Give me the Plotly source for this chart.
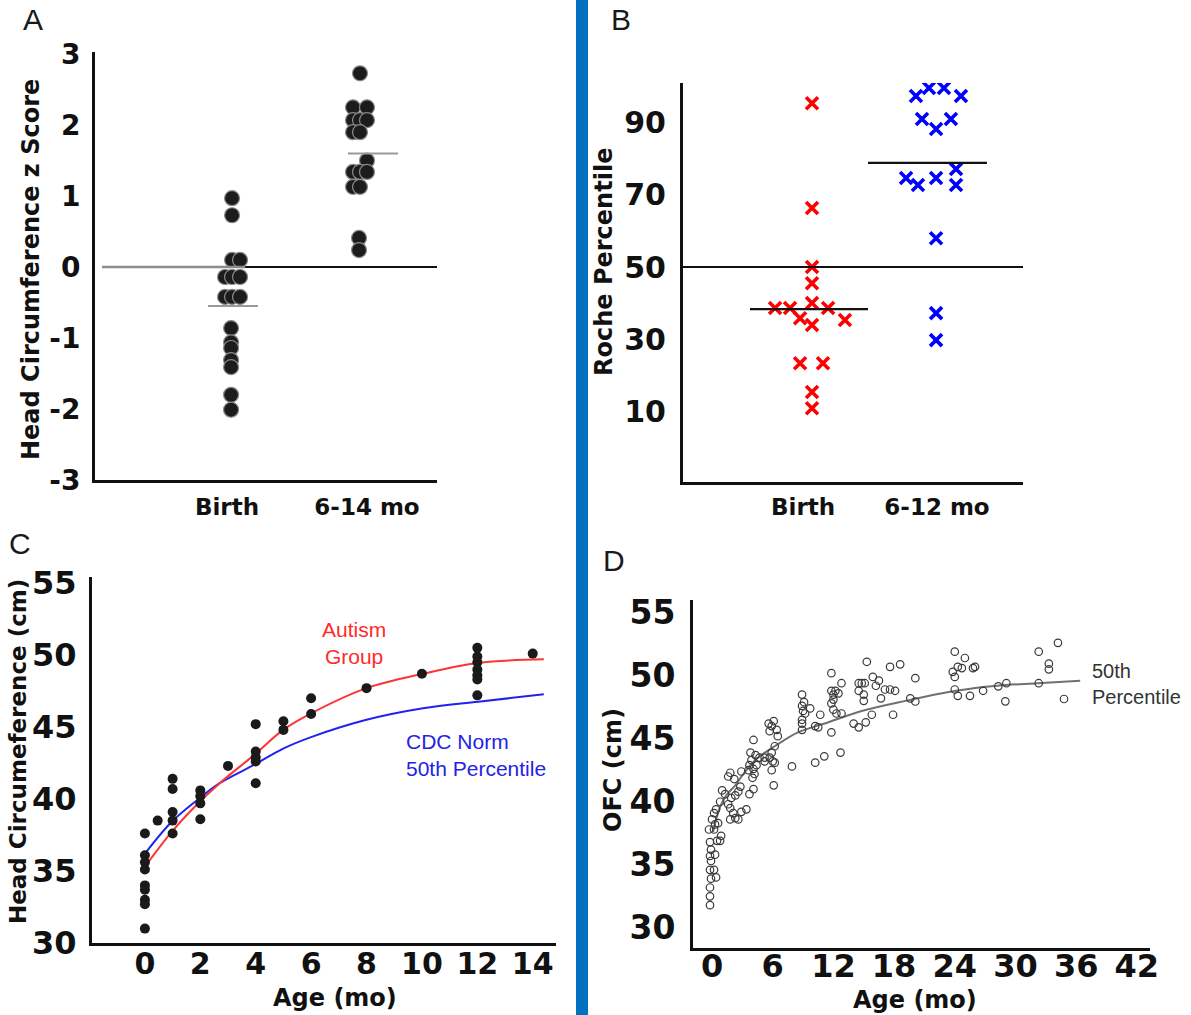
import plotly.graph_objects as go

W, H = 1191, 1015
def px(x): return x / W
def py(y): return 1 - y / H

# ---------------- Panel A data ----------------
a_groups = ["Birth", "6-14 mo"]
a_birth_z = [0.97, 0.73, 0.10, 0.10, -0.14, -0.14, -0.14, -0.42, -0.42, -0.42,
             -0.86, -1.06, -1.14, -1.31, -1.41, -1.80, -2.01]
a_birth_jit = [0.036, 0.036, 0.036, 0.093, -0.014, 0.036, 0.093, -0.014, 0.036, 0.093,
               0.029, 0.029, 0.029, 0.029, 0.029, 0.029, 0.029]
a_later_z = [2.73, 2.25, 2.25, 2.07, 2.07, 2.07, 1.90, 1.90, 1.50, 1.34, 1.34, 1.34,
             1.13, 1.13, 0.41, 0.24]
a_later_jit = [-0.05, -0.10, 0.0, -0.10, -0.05, 0.0, -0.10, -0.05, 0.0, -0.10, -0.05, 0.0,
               -0.10, -0.05, -0.057, -0.057]
a_means = [-0.55, 1.60]
a_yticks = [-3, -2, -1, 0, 1, 2, 3]
a_yticktext = ["-3", "-2", "-1", "0", "1", "2", "3"]

# ---------------- Panel B data ----------------
b_groups = ["Birth", "6-12 mo"]
b_birth_pct = [95.5, 66.4, 50.0, 45.5, 38.6, 38.6, 40.0, 38.6, 35.8, 33.9, 35.3, 23.3, 23.3, 15.3, 10.8]
b_birth_jit = [0.067, 0.067, 0.067, 0.067, -0.209, -0.097, 0.067, 0.187, -0.022, 0.067, 0.313,
               -0.022, 0.149, 0.067, 0.067]
b_later_pct = [97.5, 99.7, 99.7, 97.5, 91.1, 88.3, 91.1, 74.7, 72.8, 74.7, 77.2, 72.8, 58.0, 37.2, 29.7]
b_later_jit = [-0.157, -0.060, 0.052, 0.179, -0.112, -0.007, 0.104, -0.231, -0.142, -0.007,
               0.142, 0.142, -0.007, -0.007, -0.007]
b_means = [38.3, 78.9]
b_ref = 50
b_yticks = [10, 30, 50, 70, 90]

# ---------------- Panel C data ----------------
c_age = [0, 0, 0, 0, 0, 0, 0, 0, 0, 0.46,
         1, 1, 1, 1, 1, 2, 2, 2, 2, 3,
         4, 4, 4, 4, 4, 5, 5, 6, 6, 8, 10,
         12, 12, 12, 12, 12, 12, 12, 14]
c_hc = [37.6, 36.1, 35.6, 35.1, 34.0, 33.7, 33.0, 32.7, 31.0, 38.5,
        41.4, 40.7, 39.1, 38.5, 37.6, 40.6, 40.2, 39.7, 38.6, 42.3,
        45.2, 43.3, 42.9, 42.6, 41.1, 45.4, 44.8, 47.0, 45.9, 47.7, 48.7,
        50.5, 49.9, 49.5, 49.0, 48.6, 48.3, 47.2, 50.1]
c_autism_age = [0.0, 0.96, 1.87, 2.7, 3.97, 4.99, 6.0, 8.0, 10.04, 12.03, 14.4]
c_autism_hc = [35.3, 37.7, 39.6, 41.1, 43.1, 44.8, 45.95, 47.7, 48.7, 49.45, 49.7]
c_cdc_age = [0.0, 0.96, 1.87, 2.7, 3.97, 4.99, 6.0, 8.0, 10.04, 12.03, 14.4]
c_cdc_hc = [36.2, 38.4, 39.9, 41.1, 42.4, 43.5, 44.3, 45.5, 46.3, 46.76, 47.27]
c_xticks = [0, 2, 4, 6, 8, 10, 12, 14]
c_yticks = [30, 35, 40, 45, 50, 55]

# ---------------- Panel D data ----------------
d_age = [-0.2, -0.2, -0.2, -0.1, 0.4, -0.2, 0.2, -0.1, -0.2, 0.3, -0.1, -0.2, 0.5, 0.8, -0.3,
         0.2, 0.3, 0.0, 0.2, 0.4, 0.6, 0.9,
         0.8, 1.3, 1.6, 1.8, 1.8, 1.9, 2.1, 2.3, 2.3, 2.6, 2.6, 2.8, 1.6, 1.8, 2.9, 1.0, 2.2,
         2.9, 3.4,
         3.7, 4.1, 3.6, 3.7, 3.9, 4.1, 4.0, 4.2, 4.3, 4.1, 3.8, 5.2, 4.4, 4.7,
         5.6, 5.7, 5.9, 6.1, 6.4, 6.2, 5.2, 5.7, 5.9, 6.0, 6.2, 5.9, 6.1, 7.9, 6.5,
         8.9, 8.9, 9.1, 9.0, 8.9, 9.2, 8.9, 8.9, 9.7, 10.2, 10.5, 10.7, 10.2, 11.1,
         11.8, 11.8, 12.0, 12.0, 11.8, 12.0, 12.2, 12.8, 12.8, 11.8, 12.7, 12.3, 12.5,
         14.0, 14.5, 15.2, 15.3, 14.5, 14.8, 15.1, 14.5, 15.0, 15.0, 15.9, 16.5, 16.2,
         17.1, 17.6, 17.6, 18.6, 16.7, 15.8, 17.9,
         20.1, 19.6, 20.1, 18.1,
         24.0, 25.0, 24.3, 23.8, 24.0, 24.7, 25.8, 26.0, 24.0, 24.3, 25.5, 26.8,
         28.3, 29.1, 29.0,
         32.3, 33.3, 33.3, 34.2, 32.3, 34.8]
d_ofc = [31.8, 32.5, 33.2, 33.9, 34.0, 34.6, 34.6, 35.3, 35.7, 35.8, 36.2, 36.8, 36.9, 36.9, 37.8,
         37.8, 38.2, 38.6, 39.1, 39.4, 38.3, 37.3,
         40.0, 40.6, 39.8, 39.5, 38.6, 40.3, 39.1, 38.7, 40.5, 38.6, 40.8, 41.2, 42.0, 42.3, 42.4, 40.9, 41.8,
         39.2, 39.4,
         40.6, 41.0, 42.5, 42.9, 43.3, 42.6, 41.9, 42.2, 43.7, 44.9, 43.9, 43.2, 42.9, 43.5,
         46.2, 45.6, 46.0, 46.4, 45.7, 44.4, 43.5, 43.5, 43.9, 43.2, 43.1, 42.5, 41.3, 42.8, 45.2,
         48.5, 47.6, 47.9, 47.2, 46.5, 47.0, 46.2, 45.7, 47.4, 46.0, 45.9, 46.9, 43.1, 43.6,
         50.2, 48.8, 48.5, 48.1, 47.8, 47.3, 48.8, 49.4, 47.0, 45.5, 43.9, 47.0, 48.6,
         46.2, 45.9, 46.3, 51.1, 49.4, 49.4, 49.4, 48.8, 48.5, 48.0, 49.9, 49.6, 49.2,
         48.9, 48.9, 50.7, 50.9, 48.2, 46.9, 46.9,
         49.8, 48.2, 47.95, 48.8,
         51.9, 51.4, 50.7, 50.3, 49.9, 50.6, 50.6, 50.7, 48.9, 48.4, 48.4, 48.8,
         49.15, 49.4, 47.96,
         51.9, 50.95, 50.5, 52.6, 49.4, 48.15]
d_p50_age = [0.1, 0.8, 1.5, 2.3, 3.0, 4.4, 6.2, 8.5, 11.5, 14.8, 19.1, 24.1, 28.2, 32.2, 36.4]
d_p50_ofc = [37.6, 39.6, 40.6, 41.3, 42.1, 43.4, 44.4, 45.5, 46.3, 47.2, 48.0, 48.8, 49.2, 49.4, 49.6]
d_xticks = [0, 6, 12, 18, 24, 30, 36, 42]
d_yticks = [30, 35, 40, 45, 50, 55]

# ---------------- Figure ----------------
fig = go.Figure()
BOLD = "DejaVu Sans"
REG = "Liberation Sans"

dot_marker = dict(size=15, color="#1c1c1c", line=dict(color="#8a8a8a", width=1.2))
fig.add_trace(go.Scatter(x=[1 + j for j in a_birth_jit], y=a_birth_z, mode="markers",
                         marker=dot_marker, xaxis="x", yaxis="y", showlegend=False))
fig.add_trace(go.Scatter(x=[2 + j for j in a_later_jit], y=a_later_z, mode="markers",
                         marker=dot_marker, xaxis="x", yaxis="y", showlegend=False))

xm = dict(size=12, symbol="x-thin", line=dict(width=3.6, color="#ff0000"), color="#ff0000")
fig.add_trace(go.Scatter(x=[1 + j for j in b_birth_jit], y=b_birth_pct, mode="markers",
                         marker=xm, xaxis="x2", yaxis="y2", showlegend=False))
xb = dict(size=12, symbol="x-thin", line=dict(width=3.6, color="#0000ff"), color="#0000ff")
fig.add_trace(go.Scatter(x=[2 + j for j in b_later_jit], y=b_later_pct, mode="markers",
                         marker=xb, xaxis="x2", yaxis="y2", showlegend=False))

fig.add_trace(go.Scatter(x=c_cdc_age, y=c_cdc_hc, mode="lines", line=dict(color="#2222ee", width=2, shape="spline"),
                         xaxis="x3", yaxis="y3", showlegend=False))
fig.add_trace(go.Scatter(x=c_autism_age, y=c_autism_hc, mode="lines", line=dict(color="#ff3333", width=2, shape="spline"),
                         xaxis="x3", yaxis="y3", showlegend=False))
fig.add_trace(go.Scatter(x=c_age, y=c_hc, mode="markers",
                         marker=dict(size=10, color="#1a1a1a"), xaxis="x3", yaxis="y3", showlegend=False))

fig.add_trace(go.Scatter(x=d_p50_age, y=d_p50_ofc, mode="lines", line=dict(color="#707070", width=2, shape="spline"),
                         xaxis="x4", yaxis="y4", showlegend=False))
fig.add_trace(go.Scatter(x=d_age, y=d_ofc, mode="markers",
                         marker=dict(size=7.5, symbol="circle-open", color="#3a3a3a", line=dict(width=1.2)),
                         xaxis="x4", yaxis="y4", showlegend=False))

# reference / mean lines
shapes = []
shapes.append(dict(type="line", xref="x", yref="y", x0=0.107, x1=1.13, y0=0, y1=0, line=dict(color="#8c8c8c", width=2.5)))
shapes.append(dict(type="line", xref="x", yref="y", x0=1.13, x1=2.5, y0=0, y1=0, line=dict(color="#111", width=2)))
for i, m in enumerate(a_means):
    c = i + 1
    shapes.append(dict(type="line", xref="x", yref="y", x0=c - 0.136, x1=c + 0.221, y0=m, y1=m,
                       line=dict(color="#999", width=2)))
shapes.append(dict(type="line", xref="x2", yref="y2", x0=0.104, x1=2.68, y0=b_ref, y1=b_ref,
                   line=dict(color="#111", width=2.2)))
b_span = [(0.604, 1.485), (1.485, 2.373)]
for (x0, x1), m in zip(b_span, b_means):
    shapes.append(dict(type="line", xref="x2", yref="y2", x0=x0, x1=x1, y0=m, y1=m,
                       line=dict(color="#111", width=2.2)))
shapes.append(dict(type="rect", xref="paper", yref="paper", x0=px(576), x1=px(588), y0=0, y1=1,
                   fillcolor="#0070c0", line=dict(width=0)))

ax_common = dict(showline=True, linecolor="#111", linewidth=3, ticks="", showgrid=False,
                 zeroline=False, fixedrange=True, automargin=False)

def tf(size):
    return dict(family=BOLD, size=size, color="#111", weight="bold")

fig.update_layout(
    width=W, height=H, margin=dict(l=0, r=0, t=0, b=0, autoexpand=False),
    paper_bgcolor="white", plot_bgcolor="white",
    shapes=shapes,
    xaxis=dict(domain=[px(95), px(437)], range=[0.057, 2.5], tickvals=[1, 2], ticktext=a_groups,
               tickfont=tf(23), ticklabelstandoff=4, anchor="y", **ax_common),
    yaxis=dict(domain=[py(480), py(52)], range=[-3, 3.03], tickvals=a_yticks, ticktext=a_yticktext,
               tickfont=tf(28), ticklabelstandoff=6, anchor="x", **ax_common),
    xaxis2=dict(domain=[px(683), px(1023)], range=[0.104, 2.642], tickvals=[1, 2], ticktext=b_groups,
                tickfont=tf(23), ticklabelstandoff=2, anchor="y2", **ax_common),
    yaxis2=dict(domain=[py(482), py(83)], range=[-9.7, 101.1], tickvals=b_yticks,
                tickfont=tf(30), ticklabelstandoff=8, anchor="x2", **ax_common),
    xaxis3=dict(domain=[px(92), px(556)], range=[-1.91, 14.84], tickvals=c_xticks,
                tickfont=tf(30), ticklabelstandoff=-8, anchor="y3", **ax_common),
    yaxis3=dict(domain=[py(943), py(577)], range=[30, 55.42], tickvals=c_yticks,
                tickfont=tf(32), ticklabelstandoff=6, anchor="x3", **ax_common),
    xaxis4=dict(domain=[px(693), px(1150)], range=[-1.88, 43.3], tickvals=d_xticks,
                tickfont=tf(32), ticklabelstandoff=-12, anchor="y4", **ax_common),
    yaxis4=dict(domain=[py(948), py(600)], range=[28.4, 56.0], tickvals=d_yticks,
                tickfont=tf(33), ticklabelstandoff=8, anchor="x4", **ax_common),
)

ann = []
def title(text, x, y, size, angle=0):
    ann.append(dict(text=text, x=px(x), y=py(y), xref="paper", yref="paper", showarrow=False,
                    textangle=angle, xanchor="center", yanchor="middle",
                    font=dict(family=BOLD, size=size, color="#111", weight="bold")))

title("Head Circumference z Score", 31, 270, 24, -90)
title("Roche Percentile", 604, 262, 24, -90)
title("Head Circumeference (cm)", 18, 752, 23, -90)
title("Age (mo)", 335, 998, 24)
title("OFC (cm)", 613, 770, 24, -90)
title("Age (mo)", 915, 1000, 24)

for letter, x, y in [("A", 33, 20), ("B", 621, 20), ("C", 20, 543), ("D", 614, 560)]:
    ann.append(dict(text=letter, x=px(x), y=py(y), xref="paper", yref="paper", showarrow=False,
                    xanchor="center", yanchor="middle", font=dict(family=REG, size=30, color="#1a1a1a")))

ann.append(dict(text="Autism<br>Group", x=px(354), y=py(643), xref="paper", yref="paper", showarrow=False,
                xanchor="center", yanchor="middle", align="center",
                font=dict(family=REG, size=21, color="#ff2a2a")))
ann.append(dict(text="CDC Norm<br>50th Percentile", x=px(404), y=py(755), xref="paper", yref="paper",
                showarrow=False, xanchor="left", yanchor="middle", align="left",
                font=dict(family=REG, size=21, color="#2323e6")))
ann.append(dict(text="50th<br>Percentile", x=px(1090), y=py(684), xref="paper", yref="paper",
                showarrow=False, xanchor="left", yanchor="middle", align="left",
                font=dict(family=REG, size=20, color="#333")))
fig.update_layout(annotations=ann)

fig.write_html("out.html")
